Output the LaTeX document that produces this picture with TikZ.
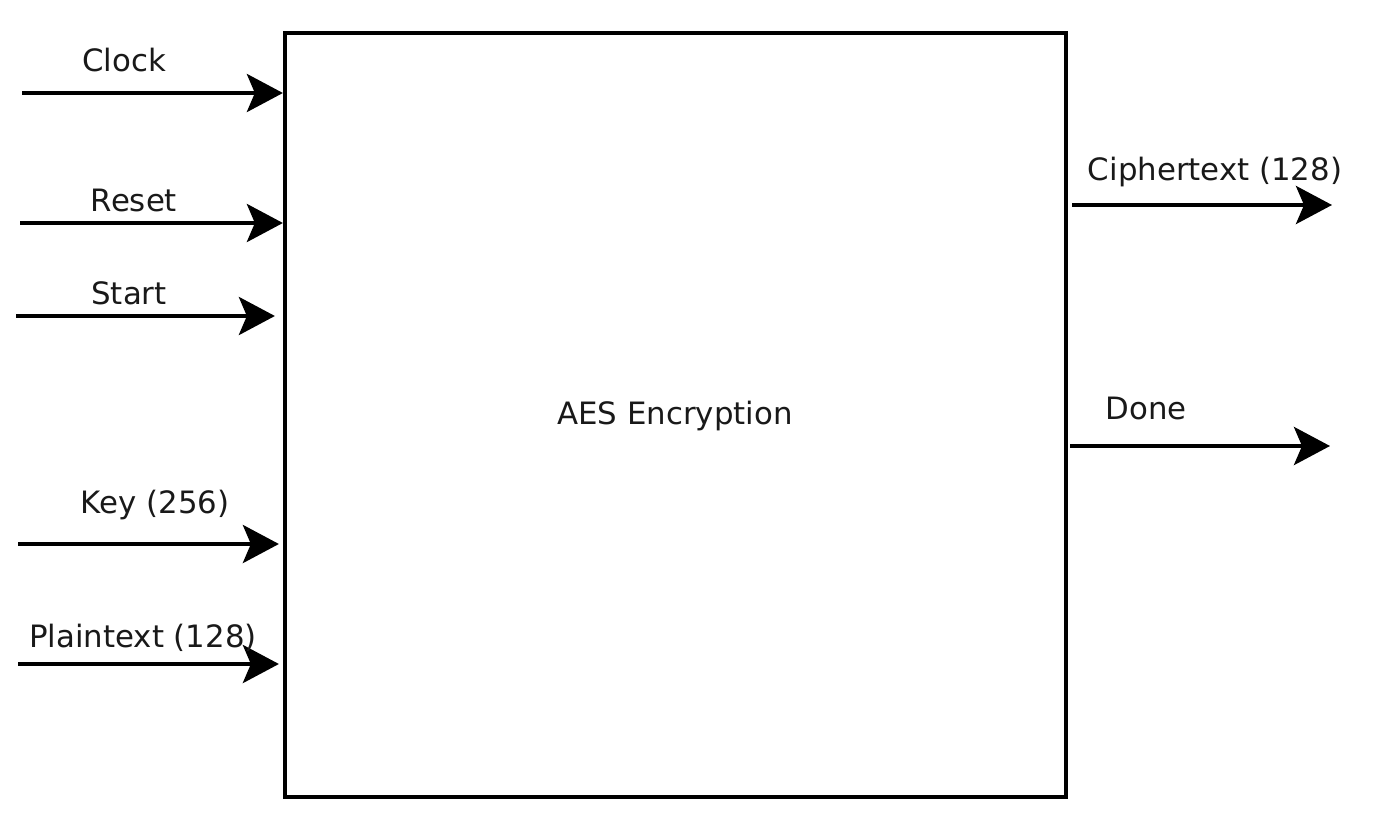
\documentclass[tikz,border=0pt]{standalone}
\usepackage{fontspec}
\setmainfont{DejaVu Sans}
\usetikzlibrary{arrows.meta}
\begin{document}
\begin{tikzpicture}[x=0.5pt,y=-0.5pt,
  lbl/.style={font=\fontsize{15.4}{18}\selectfont, inner sep=0pt, text=black!90},
  sig/.style={line width=2.1pt, -{Stealth[length=18pt,width=19pt,inset=4pt]}},
  block/.style={draw, line width=2.1pt, minimum width=390.5pt, minimum height=382pt, inner sep=0pt}]
\useasboundingbox (0,0) rectangle (1374,824);
\node[block] (aes) at (675.5,415) {};
\node[lbl] (title) at (675,416) {AES Encryption};
% input free ends
\coordinate (iclk) at (22,93);
\coordinate (irst) at (20,223);
\coordinate (istart) at (16,316);
\coordinate (ikey) at (18,544);
\coordinate (ipt) at (18,664);
% output free ends
\coordinate (oct) at (1332,205);
\coordinate (odone) at (1330,446);
% inputs
\draw[sig] (iclk) -- (aes.west |- iclk);
\draw[sig] (irst) -- (aes.west |- irst);
\draw[sig] (istart) -- ([xshift=-4pt]aes.west |- istart);
\draw[sig] (ikey) -- ([xshift=-2pt]aes.west |- ikey);
\draw[sig] (ipt) -- ([xshift=-2pt]aes.west |- ipt);
% outputs
\draw[sig] ([xshift=2pt]aes.east |- oct) -- (oct);
\draw[sig] ([xshift=1pt]aes.east |- odone) -- (odone);
% labels
\node[lbl] (lclk) at (124,60) {Clock};
\node[lbl] (lrst) at (134,200) {Reset};
\node[lbl] (lstart) at (129,293) {Start};
\node[lbl] (lkey) at (155,505) {Key (256)};
\node[lbl] (lpt) at (143,638) {Plaintext (128)};
\node[lbl] (lct) at (1215,172) {Ciphertext (128)};
\node[lbl] (ldone) at (1146,408) {Done};
\end{tikzpicture}
\end{document}
